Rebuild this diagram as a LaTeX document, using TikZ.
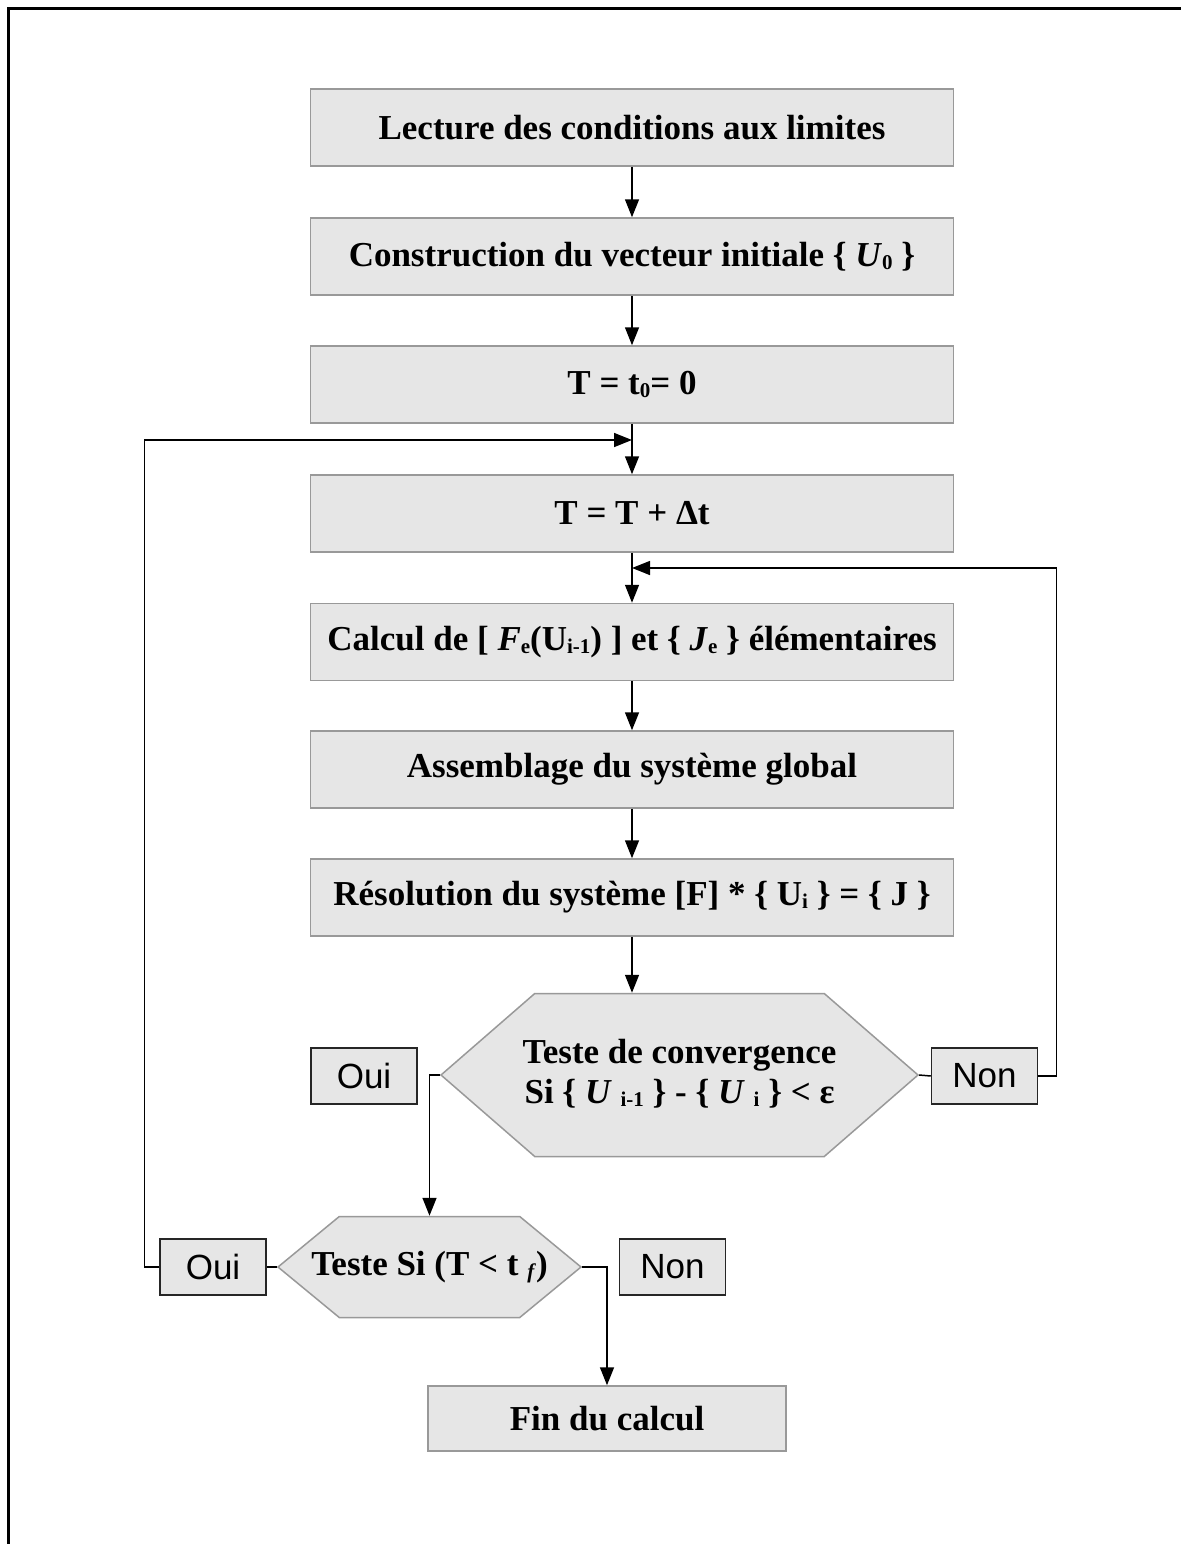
\documentclass[tikz,border=0pt]{standalone}
\usepackage{fontspec}
\setmainfont{Liberation Serif}
\newfontfamily\sansrep{Liberation Sans}
\usetikzlibrary{arrows.meta,shapes.symbols}

\definecolor{boxfill}{HTML}{E6E6E6}
\definecolor{boxline}{HTML}{999999}

% petits indices poses presque sur la ligne de base
\newcommand\low[1]{\raisebox{-3pt}{\fontsize{21}{21}\selectfont #1}}
% texte qui deborde du contour sans l'elargir
\newcommand\wide[1]{\makebox[0pt]{\begin{tabular}{@{}c@{}}#1\end{tabular}}}

\tikzset{
  etape/.style={rectangle,draw=boxline,line width=1.5pt,fill=boxfill,
    minimum width=643pt,minimum height=77pt,inner sep=0pt,
    font=\fontsize{35}{42}\selectfont\bfseries},
  testhex/.style={signal,signal to=west and east,draw=boxline,line width=1.5pt,
    fill=boxfill,inner sep=0pt,
    font=\fontsize{35}{40}\selectfont\bfseries},
  rep/.style={rectangle,draw=black!85,line width=1.5pt,fill=boxfill,
    minimum width=106pt,minimum height=56pt,inner sep=0pt,
    font=\fontsize{35}{42}\selectfont\sansrep},
  fleche/.style={-{Triangle[length=18pt,width=14pt]},line width=1.5pt}
}

\begin{document}
\begin{tikzpicture}[x=1pt,y=-1pt]

      \useasboundingbox (0,0) rectangle (1181,1544);
      \draw[line width=3pt] (8,1544) -- (8,9) -- (1181,9);

      \begin{scope}[every node/.style={etape}]
        \node (lect)  at (632,127.5) {Lecture des conditions aux limites};
        \node (const) at (632,256.5) {Construction du vecteur initiale \{ \textit{U}\low{0} \}};
        \node (init)  at (632,384.5) {T = t\low{0}= 0};
        \node (incr)  at (632,513.5) {T = T + Δt};
        \node (calc)  at (632,642)   {Calcul de [ \textit{F}\low{e}(U\low{i-1}) ] et \{ \textit{J}\low{e} \} élémentaires};
        \node (assem) at (632,769.5) {Assemblage du système global};
        \node (resol) at (632,897.5) {Résolution du système [F] * \{ U\low{i} \} = \{ J \}};
        \node[minimum width=358pt,minimum height=65pt] (fin) at (607,1418.5) {Fin du calcul};
      \end{scope}

      \begin{scope}[every node/.style={testhex}]
        \node[minimum width=477pt,minimum height=163pt,signal pointer angle=82] (conv) at (679.5,1075)
          {\wide{Teste de convergence\\Si \{ \textit{U} \low{i-1} \} - \{ \textit{U} \low{i} \} < ε}};
        \node[minimum width=303pt,minimum height=101pt,signal pointer angle=79] (tf) at (429.5,1267)
          {\wide{Teste Si (T < t \low{\textit{f}})}};
      \end{scope}

      \begin{scope}[every node/.style={rep}]
        \node (oui1) at (364,1076)   {Oui};
        \node (non1) at (984.5,1076) {Non};
        \node (oui2) at (213,1267)   {Oui};
        \node (non2) at (672.5,1267) {Non};
      \end{scope}

      \coordinate (j1) at (632,440);
      \coordinate (j2) at (632,568);

      \begin{scope}[every edge/.style={draw,fleche}]
        \path (lect)  edge (const);
        \path (const) edge (init);
        \path (init)  edge (incr);
        \path (incr)  edge (calc);
        \path (calc)  edge (assem);
        \path (assem) edge (resol);
        \path (resol) edge (resol.south |- conv.north);
      \end{scope}

      \draw[line width=1.5pt] (conv.east) -- (non1.west);
      \draw[line width=1.5pt] (tf.west) -- (oui2.east);
      \draw[fleche] (non1.east) -- ++(18,0) |- (j2);
      \draw[fleche] (oui2.west) -- ++(-15,0) |- (j1);
      \draw[fleche] (conv.west) -| (tf.north);
      \draw[fleche] (tf.east) -| (fin.north);

    \end{tikzpicture}
\end{document}
